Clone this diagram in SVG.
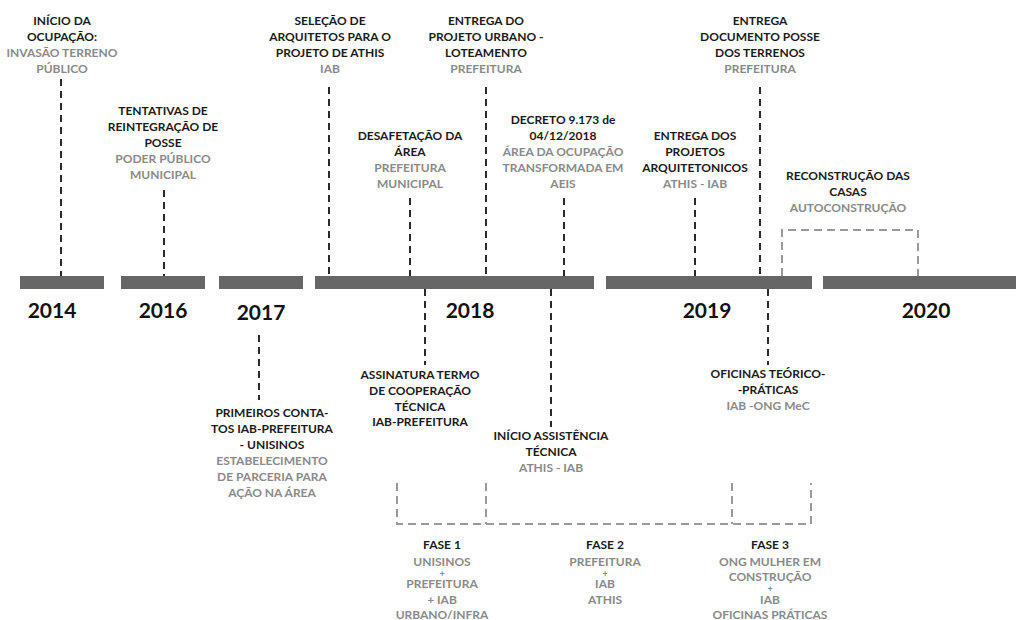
<svg xmlns="http://www.w3.org/2000/svg" width="1016" height="620" viewBox="0 0 1016 620">
<style>
.t{font-family:Lato,"Open Sans","Liberation Sans",sans-serif;font-weight:bold;font-size:12px;text-anchor:middle;fill:#1a1a1a}
.g{fill:#8a8a8a}
.p{font-size:9px}
.yr{font-family:Lato,"Open Sans","Liberation Sans",sans-serif;font-weight:bold;font-size:21px;text-anchor:middle;fill:#111}
.d{stroke:#2a2a2a;stroke-width:2;stroke-dasharray:7 5;fill:none}
.gd{stroke:#999;stroke-width:2;stroke-dasharray:8 5;fill:none}
.bar{fill:#666}
</style>
<rect width="1016" height="620" fill="#fff"/>
<g id="timeline">
<rect class="bar" x="20" y="276" width="84" height="13"/>
<rect class="bar" x="121" y="276" width="84" height="13"/>
<rect class="bar" x="219" y="276" width="84" height="13"/>
<rect class="bar" x="315" y="276" width="279" height="13"/>
<rect class="bar" x="606" y="276" width="206" height="13"/>
<rect class="bar" x="823" y="276" width="193" height="13"/>
<text class="yr" x="52" y="318">2014</text>
<text class="yr" x="163" y="318">2016</text>
<text class="yr" x="261" y="320">2017</text>
<text class="yr" x="470" y="318">2018</text>
<text class="yr" x="707" y="318">2019</text>
<text class="yr" x="926" y="318">2020</text>
</g>
<g id="connectors">
<line class="d" x1="61" y1="79" x2="61" y2="276"/>
<line class="d" x1="164" y1="190" x2="164" y2="276"/>
<line class="d" x1="329" y1="87" x2="329" y2="276"/>
<line class="d" x1="410" y1="198" x2="410" y2="276"/>
<line class="d" x1="486" y1="87" x2="486" y2="276"/>
<line class="d" x1="564" y1="198" x2="564" y2="276"/>
<line class="d" x1="695" y1="198" x2="695" y2="276"/>
<line class="d" x1="760" y1="87" x2="760" y2="276"/>
<line class="d" x1="425" y1="289" x2="425" y2="365"/>
<line class="d" x1="551" y1="289" x2="551" y2="427"/>
<line class="d" x1="768" y1="289" x2="768" y2="365"/>
<line class="d" x1="259" y1="335" x2="259" y2="400"/>
<path class="gd" d="M782 276 V230 H918 V276"/>
<path class="gd" d="M397 483 V524 H811 V483"/>
<line class="gd" x1="486" y1="483" x2="486" y2="524"/>
<line class="gd" x1="732" y1="483" x2="732" y2="524"/>
</g>
<g id="n-inicio">
<text class="t" x="62" y="25">INÍCIO DA</text>
<text class="t" x="62" y="41">OCUPAÇÃO:</text>
<text class="t g" x="62" y="57">INVASÃO TERRENO</text>
<text class="t g" x="62" y="73">PÚBLICO</text>
</g>
<g id="n-tentativas">
<text class="t" x="163" y="115">TENTATIVAS DE</text>
<text class="t" x="163" y="131">REINTEGRAÇÃO DE</text>
<text class="t" x="163" y="147">POSSE</text>
<text class="t g" x="163" y="163">PODER PÚBLICO</text>
<text class="t g" x="163" y="179">MUNICIPAL</text>
</g>
<g id="n-selecao">
<text class="t" x="330" y="25">SELEÇÃO DE</text>
<text class="t" x="330" y="41">ARQUITETOS PARA O</text>
<text class="t" x="330" y="57">PROJETO DE ATHIS</text>
<text class="t g" x="330" y="73">IAB</text>
</g>
<g id="n-entrega-urbano">
<text class="t" x="486" y="25">ENTREGA DO</text>
<text class="t" x="486" y="41">PROJETO URBANO -</text>
<text class="t" x="486" y="57">LOTEAMENTO</text>
<text class="t g" x="486" y="73">PREFEITURA</text>
</g>
<g id="n-desafetacao">
<text class="t" x="410" y="140">DESAFETAÇÃO DA</text>
<text class="t" x="410" y="156">ÁREA</text>
<text class="t g" x="410" y="172">PREFEITURA</text>
<text class="t g" x="410" y="188">MUNICIPAL</text>
</g>
<g id="n-decreto">
<text class="t" x="563" y="124">DECRETO 9.173 de</text>
<text class="t" x="563" y="140">04/12/2018</text>
<text class="t g" x="563" y="156">ÁREA DA OCUPAÇÃO</text>
<text class="t g" x="563" y="172">TRANSFORMADA EM</text>
<text class="t g" x="563" y="188">AEIS</text>
</g>
<g id="n-entrega-projetos">
<text class="t" x="695" y="140">ENTREGA DOS</text>
<text class="t" x="695" y="156">PROJETOS</text>
<text class="t" x="695" y="172">ARQUITETONICOS</text>
<text class="t g" x="695" y="188">ATHIS - IAB</text>
</g>
<g id="n-entrega-documento">
<text class="t" x="760" y="25">ENTREGA</text>
<text class="t" x="760" y="41">DOCUMENTO POSSE</text>
<text class="t" x="760" y="57">DOS TERRENOS</text>
<text class="t g" x="760" y="73">PREFEITURA</text>
</g>
<g id="n-reconstrucao">
<text class="t" x="848" y="180">RECONSTRUÇÃO DAS</text>
<text class="t" x="848" y="196">CASAS</text>
<text class="t g" x="848" y="212">AUTOCONSTRUÇÃO</text>
</g>
<g id="n-primeiros">
<text class="t" x="272" y="417">PRIMEIROS CONTA-</text>
<text class="t" x="272" y="433">TOS IAB-PREFEITURA</text>
<text class="t" x="272" y="449">- UNISINOS</text>
<text class="t g" x="272" y="465">ESTABELECIMENTO</text>
<text class="t g" x="272" y="481">DE PARCERIA PARA</text>
<text class="t g" x="272" y="497">AÇÃO NA ÁREA</text>
</g>
<g id="n-assinatura">
<text class="t" x="420" y="379">ASSINATURA TERMO</text>
<text class="t" x="420" y="395">DE COOPERAÇÃO</text>
<text class="t" x="420" y="411">TÉCNICA</text>
<text class="t" x="420" y="426">IAB-PREFEITURA</text>
</g>
<g id="n-assistencia">
<text class="t" x="551" y="440">INÍCIO ASSISTÊNCIA</text>
<text class="t" x="551" y="456">TÉCNICA</text>
<text class="t g" x="551" y="472">ATHIS - IAB</text>
</g>
<g id="n-oficinas">
<text class="t" x="768" y="378">OFICINAS TEÓRICO-</text>
<text class="t" x="768" y="394">-PRÁTICAS</text>
<text class="t g" x="768" y="410">IAB -ONG MeC</text>
</g>
<g id="n-fase1">
<text class="t" x="442" y="549">FASE 1</text>
<text class="t g" x="442" y="566">UNISINOS</text>
<text class="t g p" x="442" y="577">+</text>
<text class="t g" x="442" y="588">PREFEITURA</text>
<text class="t g" x="442" y="604">+ IAB</text>
<text class="t g" x="442" y="619">URBANO/INFRA</text>
</g>
<g id="n-fase2">
<text class="t" x="605" y="549">FASE 2</text>
<text class="t g" x="605" y="566">PREFEITURA</text>
<text class="t g p" x="605" y="577">+</text>
<text class="t g" x="605" y="588">IAB</text>
<text class="t g" x="605" y="604">ATHIS</text>
</g>
<g id="n-fase3">
<text class="t" x="770" y="549">FASE 3</text>
<text class="t g" x="770" y="566">ONG MULHER EM</text>
<text class="t g" x="770" y="581">CONSTRUÇÃO</text>
<text class="t g p" x="770" y="592">+</text>
<text class="t g" x="770" y="604">IAB</text>
<text class="t g" x="770" y="619">OFICINAS PRÁTICAS</text>
</g>
</svg>
